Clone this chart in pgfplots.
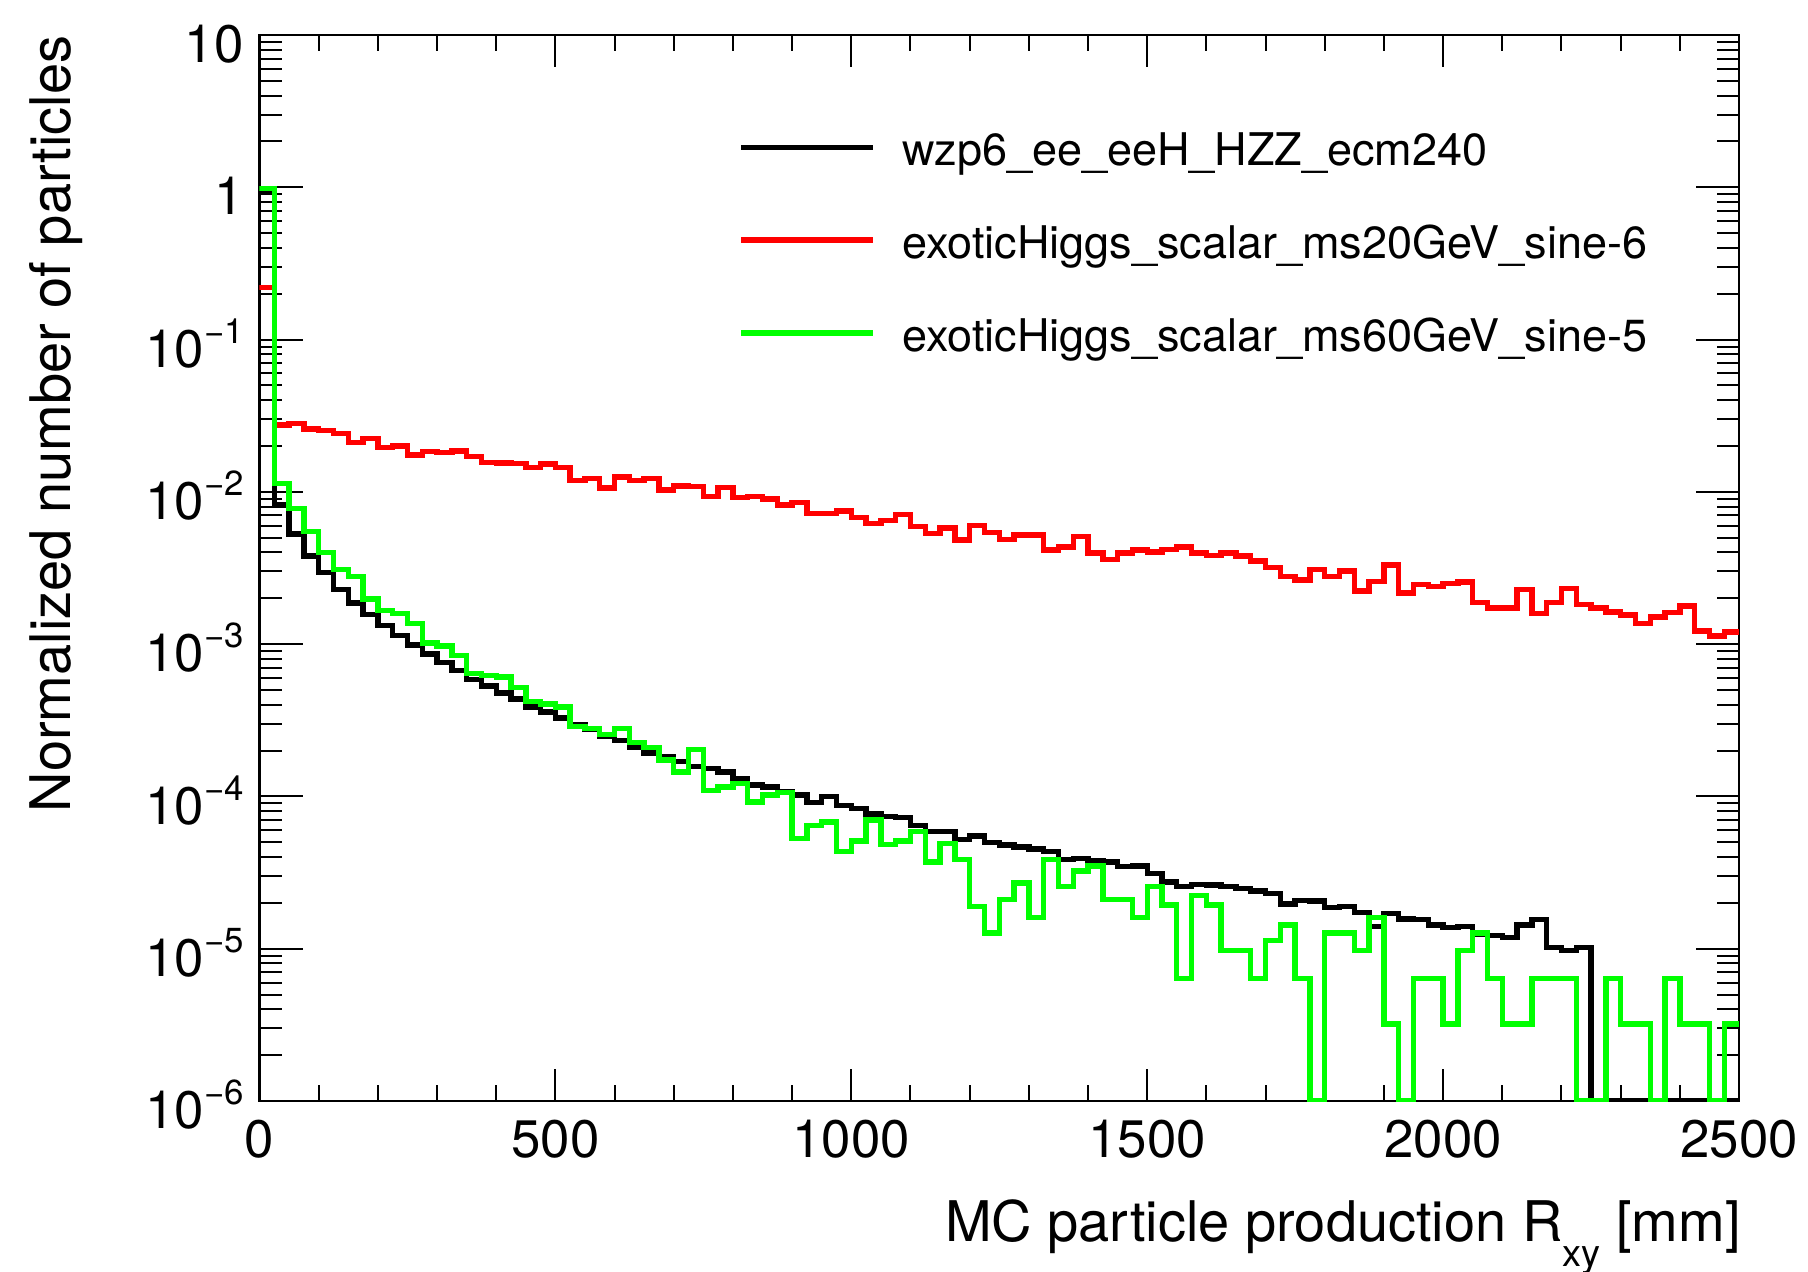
\documentclass[border=0pt]{standalone}
\usepackage{fontspec}
\setmainfont{TeX Gyre Heros}
\usepackage{pgfplots}
\usepackage{pgfplotstable}
\pgfplotsset{compat=1.18}

% ROOT-like power-of-ten label
\newcommand{\tenp}[1]{10\raisebox{6pt}{\fontsize{8.7pt}{10pt}\selectfont #1}}

% bin contents, 25 mm bins, left edges (last row repeats the last bin)
\pgfplotstableread{
x y
0 0.95
25 8.2e-3
50 5.3e-3
75 3.79e-3
100 2.95e-3
125 2.28e-3
150 1.86e-3
175 1.57e-3
200 1.33e-3
225 1.14e-3
250 9.9e-4
275 8.6e-4
300 7.6e-4
325 6.7e-4
350 5.85e-4
375 5.3e-4
400 4.77e-4
425 4.35e-4
450 3.86e-4
475 3.58e-4
500 3.27e-4
525 2.94e-4
550 2.74e-4
575 2.5e-4
600 2.32e-4
625 2.1e-4
650 1.93e-4
675 1.83e-4
700 1.70e-4
725 1.57e-4
750 1.53e-4
775 1.45e-4
800 1.31e-4
825 1.19e-4
850 1.15e-4
875 1.07e-4
900 1.02e-4
925 9.1e-5
950 1.0e-4
975 8.7e-5
1000 8.3e-5
1025 7.65e-5
1050 7.4e-5
1075 7.3e-5
1100 6.46e-5
1125 5.9e-5
1150 5.9e-5
1175 5.2e-5
1200 5.5e-5
1225 5.0e-5
1250 4.8e-5
1275 4.65e-5
1300 4.53e-5
1325 4.35e-5
1350 3.85e-5
1375 3.9e-5
1400 3.8e-5
1425 3.7e-5
1450 3.46e-5
1475 3.5e-5
1500 3.12e-5
1525 2.74e-5
1550 2.56e-5
1575 2.65e-5
1600 2.62e-5
1625 2.56e-5
1650 2.48e-5
1675 2.4e-5
1700 2.31e-5
1725 1.97e-5
1750 2.08e-5
1775 2.06e-5
1800 1.87e-5
1825 1.9e-5
1850 1.73e-5
1875 1.4e-5
1900 1.7e-5
1925 1.57e-5
1950 1.55e-5
1975 1.43e-5
2000 1.38e-5
2025 1.4e-5
2050 1.24e-5
2075 1.22e-5
2100 1.18e-5
2125 1.43e-5
2150 1.55e-5
2175 1.02e-5
2200 9.7e-6
2225 1.02e-5
2250 1e-6
2275 1e-6
2300 1e-6
2325 1e-6
2350 1e-6
2375 1e-6
2400 1e-6
2425 1e-6
2450 1e-6
2475 1e-6
2500 1e-6
}\hzz

\pgfplotstableread{
x y
0 0.22
25 2.75e-2
50 2.8e-2
75 2.58e-2
100 2.52e-2
125 2.42e-2
150 2.11e-2
175 2.25e-2
200 1.95e-2
225 2.0e-2
250 1.75e-2
275 1.84e-2
300 1.81e-2
325 1.85e-2
350 1.71e-2
375 1.56e-2
400 1.55e-2
425 1.53e-2
450 1.45e-2
475 1.52e-2
500 1.45e-2
525 1.19e-2
550 1.22e-2
575 1.06e-2
600 1.25e-2
625 1.19e-2
650 1.22e-2
675 1.03e-2
700 1.09e-2
725 1.08e-2
750 9.3e-3
775 1.07e-2
800 9.2e-3
825 9.3e-3
850 9.0e-3
875 8.2e-3
900 8.5e-3
925 7.24e-3
950 7.24e-3
975 7.5e-3
1000 6.8e-3
1025 6.2e-3
1050 6.5e-3
1075 7.1e-3
1100 5.9e-3
1125 5.35e-3
1150 5.8e-3
1175 4.84e-3
1200 6.0e-3
1225 5.4e-3
1250 4.87e-3
1275 5.2e-3
1300 5.2e-3
1325 4.14e-3
1350 4.35e-3
1375 5.07e-3
1400 3.98e-3
1425 3.61e-3
1450 3.98e-3
1475 4.14e-3
1500 4.03e-3
1525 4.2e-3
1550 4.35e-3
1575 3.98e-3
1600 3.82e-3
1625 3.98e-3
1650 3.79e-3
1675 3.52e-3
1700 3.19e-3
1725 2.79e-3
1750 2.63e-3
1775 3.09e-3
1800 2.77e-3
1825 3.03e-3
1850 2.23e-3
1875 2.59e-3
1900 3.3e-3
1925 2.17e-3
1950 2.47e-3
1975 2.38e-3
2000 2.5e-3
2025 2.56e-3
2050 1.87e-3
2075 1.73e-3
2100 1.73e-3
2125 2.29e-3
2150 1.59e-3
2175 1.88e-3
2200 2.32e-3
2225 1.82e-3
2250 1.73e-3
2275 1.63e-3
2300 1.55e-3
2325 1.37e-3
2350 1.51e-3
2375 1.61e-3
2400 1.78e-3
2425 1.22e-3
2450 1.13e-3
2475 1.2e-3
2500 1.2e-3
}\msa

\pgfplotstableread{
x y
0 0.98
25 1.13e-2
50 7.8e-3
75 5.5e-3
100 4.0e-3
125 3.1e-3
150 2.77e-3
175 1.98e-3
200 1.66e-3
225 1.59e-3
250 1.37e-3
275 1.02e-3
300 9.7e-4
325 8.4e-4
350 6.4e-4
375 6.2e-4
400 6.1e-4
425 5.2e-4
450 4.2e-4
475 4.04e-4
500 3.86e-4
525 2.87e-4
550 2.8e-4
575 2.55e-4
600 2.8e-4
625 2.26e-4
650 2.1e-4
675 1.74e-4
700 1.45e-4
725 2.03e-4
750 1.09e-4
775 1.15e-4
800 1.22e-4
825 9.2e-5
850 1.02e-4
875 1.06e-4
900 5.3e-5
925 6.46e-5
950 6.8e-5
975 4.35e-5
1000 5.1e-5
1025 7.0e-5
1050 4.83e-5
1075 5.1e-5
1100 5.9e-5
1125 3.7e-5
1150 4.9e-5
1175 3.85e-5
1200 1.9e-5
1225 1.27e-5
1250 2.1e-5
1275 2.7e-5
1300 1.6e-5
1325 3.85e-5
1350 2.57e-5
1375 3.23e-5
1400 3.5e-5
1425 2.11e-5
1450 2.11e-5
1475 1.6e-5
1500 2.57e-5
1525 1.94e-5
1550 6.4e-6
1575 2.23e-5
1600 1.94e-5
1625 9.7e-6
1650 9.7e-6
1675 6.4e-6
1700 1.13e-5
1725 1.43e-5
1750 6.4e-6
1775 1e-6
1800 1.27e-5
1825 1.27e-5
1850 9.7e-6
1875 1.6e-5
1900 3.2e-6
1925 1e-6
1950 6.4e-6
1975 6.4e-6
2000 3.2e-6
2025 9.7e-6
2050 1.27e-5
2075 6.4e-6
2100 3.2e-6
2125 3.2e-6
2150 6.4e-6
2175 6.4e-6
2200 6.4e-6
2225 1e-6
2250 1e-6
2275 6.4e-6
2300 3.2e-6
2325 3.2e-6
2350 1e-6
2375 6.4e-6
2400 3.2e-6
2425 3.2e-6
2450 1e-6
2475 3.2e-6
2500 3.2e-6
}\msb

\begin{document}
\begin{tikzpicture}
\begin{axis}[
  name=ax,
  scale only axis,
  width=369.875pt, height=266.5pt,
  ymode=log,
  xmin=0, xmax=2500,
  ymin=1e-6, ymax=10,
  axis line style={line width=0.6pt},
  tick style={line width=0.5pt, black},
  tick align=inside,
  xtick={0,500,1000,1500,2000,2500},
  xticklabels={0,500,1000,1500,2000,2500},
  minor x tick num=4,
  xtick style={/pgfplots/major tick length=8pt, /pgfplots/minor tick length=4pt},
  ytick={1e-6,1e-5,1e-4,1e-3,1e-2,1e-1,1,10},
  yticklabels={\tenp{−6},\tenp{−5},\tenp{−4},\tenp{−3},\tenp{−2},\tenp{−1},1,10},
  minor ytick={2e-6,3e-6,4e-6,5e-6,6e-6,7e-6,8e-6,9e-6,
    2e-5,3e-5,4e-5,5e-5,6e-5,7e-5,8e-5,9e-5,
    2e-4,3e-4,4e-4,5e-4,6e-4,7e-4,8e-4,9e-4,
    2e-3,3e-3,4e-3,5e-3,6e-3,7e-3,8e-3,9e-3,
    2e-2,3e-2,4e-2,5e-2,6e-2,7e-2,8e-2,9e-2,
    0.2,0.3,0.4,0.5,0.6,0.7,0.8,0.9,
    2,3,4,5,6,7,8,9},
  ytick style={/pgfplots/major tick length=10.75pt, /pgfplots/minor tick length=5.5pt},
  xticklabel style={font=\fontsize{13.2pt}{15pt}\selectfont, anchor=north, inner sep=0pt, yshift=-4.5pt},
  yticklabel style={font=\fontsize{13.2pt}{15pt}\selectfont, anchor=base east, inner sep=0pt, xshift=-3.75pt, yshift=-6.9pt},
  xlabel={MC particle production R\raisebox{-6.25pt}{\fontsize{9.5pt}{10pt}\selectfont xy} [mm]},
  xlabel style={at={(rel axis cs:1,0)}, anchor=base east, inner sep=0pt, yshift=-35.2pt, xshift=0.6pt, font=\fontsize{14pt}{16pt}\selectfont},
  ylabel={Normalized number of particles},
  ylabel style={at={(rel axis cs:-0.1276,1)}, anchor=base east, inner sep=0pt, font=\fontsize{14pt}{16pt}\selectfont},
  legend cell align=left,
  legend image code/.code={\draw[#1] (0pt,1.85pt) -- (33pt,1.85pt);},
  legend style={draw=none, fill=none, inner sep=0pt,
    at={(rel axis cs:0.3234,0.9081)}, anchor=north west,
    font=\fontsize{11.25pt}{13pt}\selectfont,
    row sep=12.7pt,
    nodes={inner sep=0pt, text height=8pt, text depth=2.5pt},
    /tikz/every odd column/.append style={column sep=6.5pt}},
]
\addplot[const plot, black, line width=1.35pt] table[x=x, y=y] {\hzz};
\addlegendentry{wzp6\_ee\_eeH\_HZZ\_ecm240}
\addplot[const plot, red, line width=1.35pt] table[x=x, y=y] {\msa};
\addlegendentry{exoticHiggs\_scalar\_ms20GeV\_sine-6}
\addplot[const plot, green, line width=1.35pt] table[x=x, y=y] {\msb};
\addlegendentry{exoticHiggs\_scalar\_ms60GeV\_sine-5}
\end{axis}
\pgfresetboundingbox
\path[use as bounding box] ([shift={(-64.875pt,-42.75pt)}]ax.south west) rectangle ([shift={(17.25pt,8.75pt)}]ax.north east);
\end{tikzpicture}
\end{document}
